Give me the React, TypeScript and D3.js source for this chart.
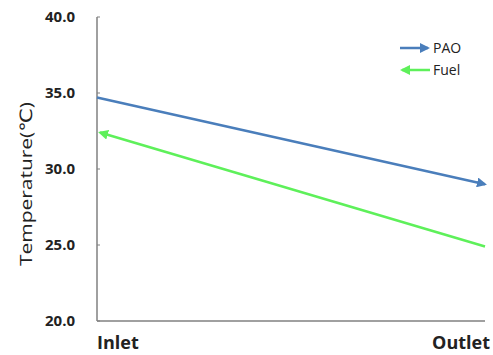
import * as d3 from 'd3';

const CATEGORIES = ['Inlet', 'Outlet'];
const PAO_VALUES = [34.7, 29.0];
const FUEL_VALUES = [32.4, 24.9];
const Y_TICKS = [20, 25, 30, 35, 40];
const SERIES = [
  { name: 'PAO', values: PAO_VALUES, color: '#4a7ebb', arrowAtEnd: true },
  { name: 'Fuel', values: FUEL_VALUES, color: '#5ef05a', arrowAtEnd: false },
];

const W = 493;
const H = 355;
const M = { left: 97, right: 8, top: 17, bottom: 34 };
const FONT = '"Open Sans", "DejaVu Sans", sans-serif';

export default function App() {
  const x = d3
    .scalePoint<string>()
    .domain(CATEGORIES)
    .range([M.left, W - M.right]);
  const y = d3.scaleLinear().domain([20, 40]).range([H - M.bottom, M.top]);

  return (
    <svg
      width={W}
      height={H}
      style={{ position: 'absolute', left: 0, top: 0, background: '#fff' }}
      fontFamily={FONT}
    >
      <defs>
        {SERIES.map((s) => (
          <marker
            key={s.name}
            id={`arrow-${s.name}`}
            viewBox="0 0 10 10"
            refX="8"
            refY="5"
            markerWidth="4"
            markerHeight="4"
            orient="auto"
          >
            <path d="M0,0 L10,5 L0,10 z" fill={s.color} />
          </marker>
        ))}
      </defs>

      {/* axes */}
      <line x1={M.left} x2={M.left} y1={y(40)} y2={y(20)} stroke="#808080" strokeWidth={1.5} />
      <line x1={M.left} x2={W - M.right} y1={y(20)} y2={y(20)} stroke="#808080" strokeWidth={1.5} />
      {Y_TICKS.map((t) => (
        <g key={t}>
          <line x1={M.left} x2={M.left + 3} y1={y(t)} y2={y(t)} stroke="#808080" strokeWidth={1} />
          <text
            x={75}
            y={y(t)}
            dy="0.35em"
            textAnchor="end"
            fontSize={15}
            fontWeight="bold"
            fill="#222"
          >
            {t.toFixed(1)}
          </text>
        </g>
      ))}
      <text x={M.left} y={349} fontSize={18} fontWeight="bold" fill="#222">
        {CATEGORIES[0]}
      </text>
      <text x={W - 3} y={349} fontSize={18} fontWeight="bold" fill="#222" textAnchor="end">
        {CATEGORIES[1]}
      </text>
      <text
        transform={`translate(32,${(y(20) + y(40)) / 2 + 15}) rotate(-90)`}
        textAnchor="middle"
        fontSize={17}
        textLength={164}
        lengthAdjust="spacingAndGlyphs"
        fill="#222"
      >
        Temperature(℃)
      </text>

      {/* series */}
      {SERIES.map((s) => {
        const xi = x(CATEGORIES[0]) as number;
        const xo = x(CATEGORIES[1]) as number;
        // PAO flows inlet -> outlet, Fuel flows outlet -> inlet
        const d = s.arrowAtEnd
          ? `M${xi},${y(s.values[0])}L${xo},${y(s.values[1])}`
          : `M${xo},${y(s.values[1])}L${xi + 3},${y(s.values[0])}`;
        return (
          <path
            key={s.name}
            d={d}
            fill="none"
            stroke={s.color}
            strokeWidth={2.5}
            markerEnd={`url(#arrow-${s.name})`}
          />
        );
      })}

      {/* legend */}
      {SERIES.map((s, i) => {
        const ly = 48 + i * 22;
        const a = s.arrowAtEnd ? [400, 428] : [430, 402];
        return (
          <g key={s.name}>
            <line
              x1={a[0]}
              x2={a[1]}
              y1={ly}
              y2={ly}
              stroke={s.color}
              strokeWidth={2.5}
              markerEnd={`url(#arrow-${s.name})`}
            />
            <text x={433} y={ly} dy="0.35em" fontSize={14} fill="#222">
              {s.name}
            </text>
          </g>
        );
      })}
    </svg>
  );
}
